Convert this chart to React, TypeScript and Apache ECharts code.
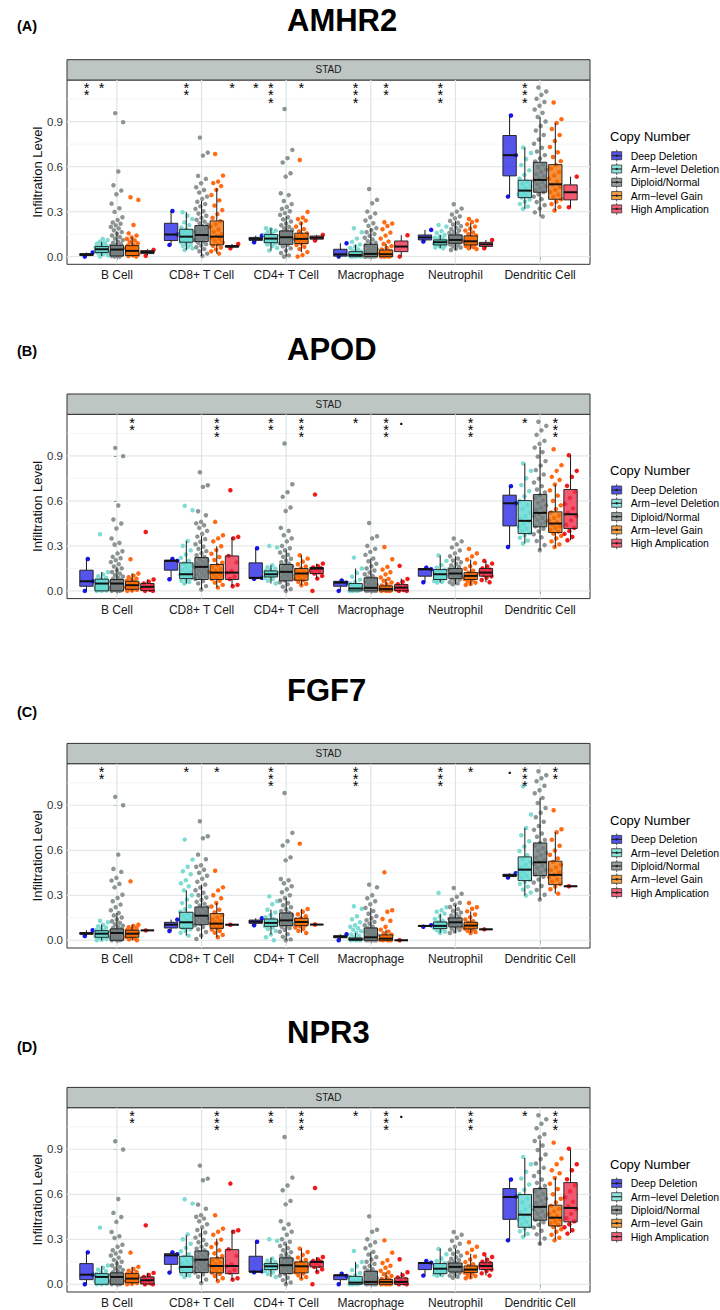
import React, { useEffect, useRef } from "react";
import * as echarts from "echarts";

// ---------- data ----------
const cellTypes = ["B Cell", "CD8+ T Cell", "CD4+ T Cell", "Macrophage", "Neutrophil", "Dendritic Cell"];
const copyGroups = ["Deep Deletion", "Arm\u2212level Deletion", "Diploid/Normal", "Arm\u2212level Gain", "High Amplication"];
const genes = ["AMHR2", "APOD", "FGF7", "NPR3"];
const panelTags = ["(A)", "(B)", "(C)", "(D)"];
const stripLabel = "STAD";
const yTicks = [0, 0.3, 0.6, 0.9];
const yMinor = [0.15, 0.45, 0.75, 1.05];

// box stats per cell type, per copy-number group: [low whisker, q1, median, q3, high whisker]
const amhr2Box = [
  [[0.0, 0.007, 0.013, 0.02, 0.027], [0.004, 0.027, 0.049, 0.067, 0.1], [0.0, 0.004, 0.047, 0.075, 0.167], [0.0, 0.007, 0.038, 0.073, 0.13], [0.009, 0.02, 0.03, 0.04, 0.05]],
  [[0.078, 0.107, 0.147, 0.222, 0.304], [0.044, 0.096, 0.133, 0.182, 0.296], [0.004, 0.1, 0.144, 0.207, 0.373], [0.02, 0.078, 0.133, 0.238, 0.456], [0.056, 0.063, 0.068, 0.074, 0.084]],
  [[0.096, 0.108, 0.118, 0.128, 0.14], [0.04, 0.093, 0.12, 0.147, 0.189], [0.0, 0.082, 0.129, 0.171, 0.267], [0.03, 0.087, 0.118, 0.156, 0.227], [0.107, 0.116, 0.126, 0.137, 0.145]],
  [[0.0, 0.003, 0.015, 0.049, 0.089], [0.0, 0.0, 0.011, 0.033, 0.08], [0.0, 0.0, 0.018, 0.082, 0.19], [0.0, 0.0, 0.016, 0.044, 0.084], [0.0, 0.033, 0.067, 0.104, 0.142]],
  [[0.1, 0.111, 0.128, 0.144, 0.178], [0.056, 0.078, 0.096, 0.111, 0.144], [0.044, 0.089, 0.111, 0.144, 0.238], [0.05, 0.078, 0.102, 0.138, 0.222], [0.056, 0.068, 0.082, 0.095, 0.111]],
  [[0.4, 0.538, 0.676, 0.807, 0.94], [0.318, 0.393, 0.44, 0.509, 0.727], [0.267, 0.429, 0.511, 0.629, 0.93], [0.307, 0.382, 0.482, 0.613, 0.89], [0.329, 0.378, 0.429, 0.478, 0.533]],
];
const apodBox = [
  [[0.0, 0.031, 0.064, 0.138, 0.213], [0.0, 0.0, 0.049, 0.078, 0.125], [0.0, 0.0, 0.049, 0.076, 0.16], [0.0, 0.011, 0.038, 0.064, 0.116], [0.0, 0.002, 0.027, 0.049, 0.076]],
  [[0.078, 0.138, 0.2, 0.205, 0.213], [0.049, 0.082, 0.111, 0.187, 0.333], [0.009, 0.076, 0.16, 0.222, 0.367], [0.022, 0.076, 0.122, 0.176, 0.298], [0.031, 0.076, 0.122, 0.233, 0.36]],
  [[0.08, 0.082, 0.087, 0.187, 0.284], [0.049, 0.093, 0.111, 0.133, 0.171], [0.0, 0.067, 0.127, 0.176, 0.271], [0.038, 0.071, 0.116, 0.149, 0.238], [0.082, 0.116, 0.149, 0.156, 0.182]],
  [[0.0, 0.031, 0.055, 0.064, 0.07], [0.0, 0.0, 0.016, 0.049, 0.149], [0.0, 0.0, 0.02, 0.087, 0.216], [0.0, 0.0, 0.013, 0.033, 0.08], [0.0, 0.001, 0.022, 0.042, 0.082]],
  [[0.058, 0.098, 0.144, 0.149, 0.155], [0.056, 0.076, 0.111, 0.142, 0.236], [0.044, 0.082, 0.116, 0.149, 0.231], [0.04, 0.076, 0.1, 0.122, 0.209], [0.058, 0.098, 0.122, 0.149, 0.2]],
  [[0.293, 0.433, 0.584, 0.638, 0.698], [0.316, 0.382, 0.467, 0.602, 0.849], [0.271, 0.427, 0.52, 0.642, 0.96], [0.293, 0.389, 0.449, 0.527, 0.709], [0.338, 0.416, 0.511, 0.676, 0.904]],
];
const fgf7Box = [
  [[0.029, 0.04, 0.046, 0.052, 0.067], [0.0, 0.02, 0.044, 0.064, 0.104], [0.0, 0.0, 0.049, 0.076, 0.182], [0.0, 0.02, 0.044, 0.067, 0.104], [0.066, 0.066, 0.066, 0.066, 0.066]],
  [[0.062, 0.082, 0.104, 0.12, 0.138], [0.031, 0.08, 0.12, 0.187, 0.333], [0.009, 0.104, 0.164, 0.222, 0.371], [0.02, 0.08, 0.111, 0.178, 0.249], [0.104, 0.104, 0.104, 0.104, 0.104]],
  [[0.1, 0.113, 0.124, 0.135, 0.147], [0.038, 0.093, 0.116, 0.142, 0.204], [0.0, 0.098, 0.133, 0.182, 0.282], [0.049, 0.098, 0.122, 0.147, 0.209], [0.105, 0.105, 0.105, 0.105, 0.105]],
  [[0.0, 0.017, 0.024, 0.031, 0.04], [0.0, 0.0, 0.007, 0.016, 0.049], [0.0, 0.0, 0.02, 0.082, 0.216], [0.0, 0.0, 0.011, 0.036, 0.071], [0.0, 0.0, 0.0, 0.0, 0.0]],
  [[0.09, 0.093, 0.096, 0.098, 0.1], [0.049, 0.078, 0.096, 0.122, 0.178], [0.049, 0.089, 0.12, 0.149, 0.238], [0.049, 0.076, 0.098, 0.12, 0.193], [0.073, 0.073, 0.073, 0.073, 0.073]],
  [[0.418, 0.425, 0.433, 0.44, 0.447], [0.298, 0.398, 0.471, 0.556, 0.749], [0.271, 0.431, 0.52, 0.649, 0.949], [0.311, 0.371, 0.436, 0.527, 0.72], [0.36, 0.36, 0.36, 0.36, 0.36]],
];
const npr3Box = [
  [[0.0, 0.031, 0.064, 0.138, 0.213], [0.0, 0.0, 0.049, 0.071, 0.122], [0.0, 0.0, 0.049, 0.076, 0.16], [0.0, 0.011, 0.038, 0.071, 0.116], [0.0, 0.002, 0.027, 0.049, 0.076]],
  [[0.076, 0.133, 0.193, 0.204, 0.213], [0.049, 0.078, 0.116, 0.187, 0.327], [0.009, 0.078, 0.164, 0.222, 0.371], [0.022, 0.076, 0.122, 0.176, 0.304], [0.031, 0.071, 0.122, 0.231, 0.36]],
  [[0.08, 0.082, 0.084, 0.187, 0.284], [0.049, 0.098, 0.12, 0.138, 0.178], [0.0, 0.071, 0.127, 0.176, 0.271], [0.038, 0.076, 0.12, 0.149, 0.238], [0.082, 0.116, 0.149, 0.153, 0.182]],
  [[0.0, 0.031, 0.06, 0.062, 0.07], [0.0, 0.0, 0.011, 0.053, 0.149], [0.0, 0.0, 0.016, 0.087, 0.216], [0.0, 0.0, 0.016, 0.033, 0.08], [0.0, 0.0, 0.016, 0.042, 0.082]],
  [[0.058, 0.098, 0.142, 0.144, 0.15], [0.056, 0.071, 0.104, 0.138, 0.238], [0.044, 0.082, 0.116, 0.142, 0.238], [0.04, 0.078, 0.098, 0.122, 0.204], [0.058, 0.098, 0.122, 0.144, 0.191]],
  [[0.289, 0.433, 0.582, 0.638, 0.693], [0.316, 0.38, 0.464, 0.598, 0.842], [0.26, 0.427, 0.516, 0.638, 0.96], [0.298, 0.389, 0.444, 0.527, 0.709], [0.342, 0.416, 0.509, 0.678, 0.898]],
];

// individual sample values (read approximately from the jittered points)
const amhr2Pts = [
  [
    [0.0, 0.027],
    [0.0, 0.008, 0.016, 0.022, 0.027, 0.031, 0.036, 0.04, 0.043, 0.046, 0.049, 0.052, 0.055, 0.058, 0.062, 0.066, 0.07, 0.074, 0.08, 0.086, 0.093, 0.1, 0.11, 0.118],
    [0.956, 0.896, 0.567, 0.476, 0.44, 0.416, 0.353, 0.322, 0.298, 0.262, 0.244, 0.227, 0.219, 0.208, 0.198, 0.188, 0.176, 0.163, 0.152, 0.141, 0.13, 0.12, 0.11, 0.1, 0.092, 0.085, 0.078, 0.072, 0.066, 0.06, 0.054, 0.048, 0.043, 0.038, 0.032, 0.027, 0.022, 0.017, 0.012, 0.008, 0.004, 0.0, 0.0],
    [0.396, 0.378, 0.211, 0.155, 0.14, 0.127, 0.118, 0.108, 0.098, 0.089, 0.081, 0.074, 0.067, 0.061, 0.055, 0.049, 0.044, 0.039, 0.034, 0.029, 0.024, 0.019, 0.014, 0.009, 0.004, 0.0],
    [0.005, 0.045],
  ],
  [
    [0.078, 0.147, 0.304],
    [0.044, 0.055, 0.064, 0.072, 0.08, 0.088, 0.095, 0.101, 0.108, 0.115, 0.121, 0.127, 0.133, 0.139, 0.146, 0.154, 0.162, 0.171, 0.181, 0.193, 0.21, 0.228, 0.25, 0.272, 0.296],
    [0.793, 0.693, 0.673, 0.538, 0.518, 0.489, 0.462, 0.444, 0.427, 0.4, 0.385, 0.366, 0.35, 0.335, 0.318, 0.302, 0.287, 0.272, 0.258, 0.245, 0.233, 0.222, 0.212, 0.202, 0.193, 0.184, 0.175, 0.166, 0.158, 0.15, 0.143, 0.136, 0.129, 0.122, 0.115, 0.108, 0.1, 0.092, 0.083, 0.073, 0.062, 0.05, 0.036, 0.02, 0.005],
    [0.684, 0.54, 0.5, 0.49, 0.47, 0.445, 0.41, 0.375, 0.34, 0.31, 0.283, 0.258, 0.236, 0.216, 0.198, 0.181, 0.165, 0.15, 0.138, 0.127, 0.116, 0.105, 0.094, 0.083, 0.072, 0.061, 0.048, 0.035, 0.02],
    [0.056, 0.084],
  ],
  [
    [0.096, 0.14],
    [0.04, 0.058, 0.07, 0.08, 0.088, 0.095, 0.101, 0.107, 0.112, 0.117, 0.122, 0.127, 0.133, 0.139, 0.146, 0.154, 0.163, 0.173, 0.182, 0.189],
    [0.984, 0.711, 0.656, 0.627, 0.556, 0.533, 0.422, 0.41, 0.371, 0.35, 0.331, 0.318, 0.302, 0.29, 0.278, 0.262, 0.248, 0.234, 0.221, 0.209, 0.198, 0.188, 0.179, 0.17, 0.162, 0.154, 0.147, 0.14, 0.134, 0.128, 0.122, 0.116, 0.11, 0.103, 0.096, 0.088, 0.079, 0.068, 0.055, 0.04, 0.024, 0.008, 0.0],
    [0.644, 0.298, 0.26, 0.25, 0.24, 0.222, 0.2, 0.183, 0.168, 0.155, 0.145, 0.136, 0.128, 0.121, 0.115, 0.109, 0.102, 0.095, 0.087, 0.077, 0.065, 0.05, 0.03, 0.01, 0.0],
    [0.107, 0.145],
  ],
  [
    [0.0, 0.089],
    [0.189, 0.162, 0.12, 0.098, 0.08, 0.068, 0.057, 0.047, 0.039, 0.032, 0.026, 0.02, 0.015, 0.011, 0.007, 0.004, 0.001, 0.0, 0.0, 0.0],
    [0.451, 0.378, 0.356, 0.3, 0.288, 0.262, 0.241, 0.222, 0.205, 0.19, 0.176, 0.163, 0.15, 0.138, 0.126, 0.114, 0.103, 0.093, 0.084, 0.075, 0.066, 0.058, 0.05, 0.043, 0.036, 0.03, 0.024, 0.018, 0.013, 0.008, 0.004, 0.001, 0.0, 0.0, 0.0, 0.0],
    [0.229, 0.22, 0.204, 0.182, 0.16, 0.14, 0.12, 0.1, 0.084, 0.07, 0.058, 0.047, 0.037, 0.028, 0.021, 0.015, 0.01, 0.005, 0.002, 0.0, 0.0, 0.0],
    [0.0, 0.142],
  ],
  [
    [0.1, 0.178],
    [0.211, 0.2, 0.17, 0.158, 0.144, 0.134, 0.126, 0.119, 0.113, 0.107, 0.102, 0.098, 0.094, 0.09, 0.086, 0.082, 0.078, 0.073, 0.067, 0.06, 0.056],
    [0.349, 0.32, 0.3, 0.281, 0.268, 0.255, 0.238, 0.226, 0.214, 0.203, 0.193, 0.183, 0.174, 0.165, 0.157, 0.149, 0.142, 0.136, 0.13, 0.124, 0.118, 0.113, 0.108, 0.103, 0.098, 0.093, 0.088, 0.082, 0.076, 0.069, 0.061, 0.052, 0.044],
    [0.251, 0.24, 0.23, 0.215, 0.2, 0.186, 0.173, 0.161, 0.15, 0.14, 0.131, 0.122, 0.114, 0.107, 0.1, 0.094, 0.088, 0.082, 0.076, 0.07, 0.063, 0.056, 0.05],
    [0.056, 0.111],
  ],
  [
    [0.4, 0.676, 0.94],
    [0.727, 0.69, 0.65, 0.61, 0.575, 0.545, 0.52, 0.5, 0.484, 0.47, 0.458, 0.446, 0.436, 0.426, 0.416, 0.405, 0.394, 0.381, 0.366, 0.35, 0.334, 0.318],
    [1.127, 1.1, 1.078, 1.052, 1.03, 1.005, 0.98, 0.958, 0.93, 0.9, 0.87, 0.84, 0.81, 0.78, 0.752, 0.725, 0.7, 0.676, 0.654, 0.634, 0.615, 0.597, 0.58, 0.564, 0.549, 0.535, 0.521, 0.508, 0.495, 0.482, 0.469, 0.456, 0.443, 0.43, 0.416, 0.4, 0.383, 0.364, 0.343, 0.32, 0.295, 0.267],
    [1.027, 0.916, 0.89, 0.85, 0.81, 0.77, 0.73, 0.695, 0.664, 0.636, 0.61, 0.586, 0.563, 0.541, 0.52, 0.5, 0.481, 0.463, 0.446, 0.43, 0.414, 0.398, 0.382, 0.366, 0.35, 0.33, 0.307],
    [0.329, 0.533],
  ],
];
const apodPts = [
  [
    [0.0, 0.064, 0.213],
    [0.378, 0.125, 0.11, 0.098, 0.088, 0.079, 0.071, 0.064, 0.058, 0.052, 0.047, 0.041, 0.035, 0.028, 0.021, 0.014, 0.008, 0.003, 0.0, 0.0],
    [0.953, 0.898, 0.569, 0.476, 0.449, 0.416, 0.349, 0.32, 0.309, 0.264, 0.25, 0.227, 0.218, 0.205, 0.192, 0.178, 0.163, 0.15, 0.138, 0.126, 0.115, 0.105, 0.096, 0.088, 0.081, 0.074, 0.068, 0.062, 0.056, 0.05, 0.045, 0.04, 0.035, 0.03, 0.025, 0.02, 0.015, 0.01, 0.006, 0.002, 0.0, 0.0],
    [0.211, 0.116, 0.102, 0.091, 0.082, 0.074, 0.067, 0.06, 0.054, 0.048, 0.043, 0.038, 0.033, 0.028, 0.023, 0.018, 0.013, 0.008, 0.003, 0.0],
    [0.393, 0.076, 0.062, 0.049, 0.038, 0.027, 0.017, 0.008, 0.0, 0.0],
  ],
  [
    [0.078, 0.2, 0.213],
    [0.567, 0.538, 0.333, 0.3, 0.27, 0.243, 0.22, 0.2, 0.183, 0.168, 0.154, 0.141, 0.13, 0.119, 0.11, 0.101, 0.093, 0.085, 0.077, 0.068, 0.059, 0.049],
    [0.791, 0.704, 0.693, 0.531, 0.504, 0.46, 0.45, 0.438, 0.42, 0.4, 0.38, 0.362, 0.345, 0.328, 0.311, 0.295, 0.28, 0.265, 0.251, 0.238, 0.226, 0.214, 0.203, 0.193, 0.183, 0.173, 0.164, 0.155, 0.146, 0.137, 0.128, 0.119, 0.11, 0.1, 0.09, 0.079, 0.066, 0.05, 0.032, 0.009],
    [0.46, 0.371, 0.35, 0.33, 0.298, 0.272, 0.248, 0.226, 0.206, 0.188, 0.172, 0.158, 0.146, 0.135, 0.125, 0.116, 0.107, 0.098, 0.089, 0.079, 0.068, 0.055, 0.04, 0.022],
    [0.671, 0.36, 0.35, 0.233, 0.19, 0.132, 0.122, 0.095, 0.079, 0.04, 0.031],
  ],
  [
    [0.08, 0.087, 0.284],
    [0.3, 0.29, 0.171, 0.158, 0.148, 0.14, 0.133, 0.127, 0.121, 0.116, 0.111, 0.106, 0.101, 0.095, 0.088, 0.079, 0.068, 0.049],
    [0.982, 0.711, 0.658, 0.627, 0.556, 0.533, 0.42, 0.4, 0.371, 0.35, 0.33, 0.3, 0.284, 0.271, 0.256, 0.241, 0.227, 0.214, 0.202, 0.191, 0.181, 0.172, 0.163, 0.155, 0.147, 0.14, 0.133, 0.126, 0.119, 0.112, 0.105, 0.097, 0.089, 0.08, 0.07, 0.058, 0.044, 0.028, 0.012, 0.0],
    [0.238, 0.215, 0.195, 0.178, 0.163, 0.15, 0.14, 0.131, 0.123, 0.116, 0.109, 0.102, 0.095, 0.088, 0.08, 0.071, 0.06, 0.048, 0.038],
    [0.642, 0.182, 0.165, 0.156, 0.15, 0.143, 0.134, 0.124, 0.116, 0.1, 0.082, 0.0],
  ],
  [
    [0.0, 0.055, 0.07],
    [0.222, 0.149, 0.12, 0.095, 0.075, 0.06, 0.048, 0.038, 0.029, 0.022, 0.016, 0.011, 0.007, 0.003, 0.0, 0.0, 0.0],
    [0.453, 0.364, 0.35, 0.3, 0.28, 0.26, 0.24, 0.216, 0.198, 0.181, 0.165, 0.15, 0.136, 0.123, 0.111, 0.1, 0.09, 0.081, 0.072, 0.063, 0.055, 0.047, 0.04, 0.033, 0.027, 0.021, 0.016, 0.011, 0.007, 0.003, 0.0, 0.0, 0.0, 0.0],
    [0.293, 0.211, 0.16, 0.142, 0.124, 0.11, 0.09, 0.08, 0.068, 0.056, 0.045, 0.036, 0.028, 0.021, 0.015, 0.01, 0.005, 0.002, 0.0, 0.0, 0.0],
    [0.167, 0.08, 0.061, 0.045, 0.033, 0.022, 0.013, 0.006, 0.0, 0.0],
  ],
  [
    [0.058, 0.144, 0.155],
    [0.236, 0.2, 0.172, 0.155, 0.142, 0.132, 0.123, 0.115, 0.108, 0.101, 0.094, 0.087, 0.08, 0.073, 0.066, 0.06, 0.056],
    [0.349, 0.33, 0.31, 0.29, 0.27, 0.25, 0.231, 0.216, 0.203, 0.191, 0.18, 0.17, 0.161, 0.153, 0.145, 0.138, 0.131, 0.124, 0.118, 0.112, 0.106, 0.1, 0.094, 0.088, 0.082, 0.075, 0.067, 0.058, 0.05, 0.044],
    [0.28, 0.25, 0.23, 0.209, 0.185, 0.165, 0.148, 0.134, 0.122, 0.112, 0.104, 0.097, 0.091, 0.085, 0.079, 0.072, 0.064, 0.055, 0.046, 0.04],
    [0.2, 0.182, 0.163, 0.15, 0.141, 0.132, 0.124, 0.117, 0.108, 0.098, 0.088, 0.073, 0.058],
  ],
  [
    [0.293, 0.584, 0.698],
    [0.849, 0.8, 0.75, 0.705, 0.665, 0.63, 0.6, 0.572, 0.546, 0.522, 0.5, 0.48, 0.462, 0.445, 0.43, 0.415, 0.4, 0.385, 0.37, 0.354, 0.336, 0.316],
    [1.127, 1.1, 1.07, 1.04, 1.0, 0.98, 0.955, 0.925, 0.895, 0.865, 0.835, 0.805, 0.776, 0.748, 0.722, 0.698, 0.676, 0.656, 0.638, 0.62, 0.603, 0.587, 0.571, 0.556, 0.541, 0.527, 0.513, 0.499, 0.486, 0.472, 0.458, 0.444, 0.43, 0.414, 0.397, 0.378, 0.357, 0.333, 0.305, 0.271],
    [0.944, 0.838, 0.8, 0.76, 0.74, 0.709, 0.67, 0.635, 0.6, 0.57, 0.545, 0.523, 0.503, 0.486, 0.47, 0.456, 0.443, 0.431, 0.419, 0.407, 0.395, 0.382, 0.367, 0.35, 0.33, 0.31, 0.293],
    [0.904, 0.8, 0.76, 0.7, 0.66, 0.62, 0.58, 0.55, 0.52, 0.5, 0.47, 0.44, 0.42, 0.4, 0.38, 0.36, 0.338],
  ],
];
const fgf7Pts = [
  [
    [0.029, 0.067],
    [0.13, 0.12, 0.104, 0.094, 0.085, 0.077, 0.07, 0.064, 0.058, 0.052, 0.047, 0.042, 0.037, 0.032, 0.027, 0.021, 0.015, 0.009, 0.004, 0.0],
    [0.956, 0.9, 0.571, 0.476, 0.456, 0.416, 0.398, 0.376, 0.353, 0.304, 0.282, 0.26, 0.238, 0.22, 0.2, 0.182, 0.166, 0.152, 0.139, 0.127, 0.116, 0.106, 0.097, 0.089, 0.082, 0.075, 0.068, 0.062, 0.056, 0.05, 0.045, 0.04, 0.035, 0.03, 0.025, 0.02, 0.015, 0.01, 0.005, 0.001, 0.0, 0.0],
    [0.393, 0.104, 0.095, 0.087, 0.08, 0.073, 0.067, 0.061, 0.055, 0.05, 0.045, 0.04, 0.035, 0.029, 0.022, 0.014, 0.006, 0.0],
    [0.066],
  ],
  [
    [0.062, 0.138],
    [0.671, 0.538, 0.49, 0.46, 0.44, 0.4, 0.38, 0.36, 0.333, 0.3, 0.272, 0.248, 0.226, 0.207, 0.19, 0.175, 0.162, 0.15, 0.139, 0.129, 0.12, 0.111, 0.102, 0.093, 0.084, 0.074, 0.063, 0.05, 0.031],
    [0.793, 0.693, 0.68, 0.571, 0.54, 0.5, 0.49, 0.47, 0.45, 0.43, 0.41, 0.39, 0.371, 0.352, 0.334, 0.317, 0.3, 0.285, 0.27, 0.256, 0.243, 0.231, 0.22, 0.21, 0.2, 0.19, 0.181, 0.172, 0.164, 0.155, 0.147, 0.138, 0.129, 0.12, 0.11, 0.1, 0.088, 0.073, 0.055, 0.032, 0.009],
    [0.464, 0.353, 0.333, 0.3, 0.28, 0.249, 0.225, 0.204, 0.185, 0.168, 0.153, 0.14, 0.129, 0.119, 0.111, 0.103, 0.096, 0.089, 0.081, 0.072, 0.062, 0.05, 0.036, 0.02],
    [0.104],
  ],
  [
    [0.1, 0.147],
    [0.293, 0.26, 0.24, 0.204, 0.185, 0.168, 0.154, 0.143, 0.134, 0.126, 0.119, 0.113, 0.107, 0.1, 0.093, 0.085, 0.075, 0.062, 0.038, 0.02, 0.0],
    [0.982, 0.716, 0.66, 0.631, 0.553, 0.533, 0.409, 0.4, 0.38, 0.36, 0.34, 0.32, 0.3, 0.282, 0.265, 0.249, 0.234, 0.22, 0.207, 0.195, 0.184, 0.174, 0.165, 0.156, 0.148, 0.14, 0.133, 0.126, 0.119, 0.112, 0.105, 0.098, 0.09, 0.081, 0.07, 0.057, 0.041, 0.023, 0.006, 0.0],
    [0.644, 0.209, 0.19, 0.174, 0.16, 0.148, 0.139, 0.131, 0.124, 0.118, 0.112, 0.106, 0.1, 0.093, 0.085, 0.075, 0.063, 0.049],
    [0.105],
  ],
  [
    [0.0, 0.04],
    [0.227, 0.21, 0.16, 0.14, 0.12, 0.1, 0.09, 0.08, 0.07, 0.06, 0.049, 0.038, 0.028, 0.02, 0.013, 0.007, 0.003, 0.0, 0.0, 0.0, 0.0],
    [0.371, 0.353, 0.3, 0.28, 0.26, 0.24, 0.216, 0.195, 0.177, 0.161, 0.147, 0.134, 0.122, 0.111, 0.1, 0.09, 0.081, 0.072, 0.064, 0.056, 0.049, 0.042, 0.035, 0.029, 0.023, 0.018, 0.013, 0.008, 0.004, 0.001, 0.0, 0.0, 0.0, 0.0],
    [0.453, 0.2, 0.19, 0.142, 0.13, 0.09, 0.071, 0.058, 0.047, 0.037, 0.028, 0.02, 0.013, 0.007, 0.003, 0.0, 0.0, 0.0],
    [0.0],
  ],
  [
    [0.09, 0.1],
    [0.316, 0.22, 0.2, 0.19, 0.178, 0.158, 0.142, 0.13, 0.12, 0.112, 0.105, 0.099, 0.093, 0.087, 0.081, 0.074, 0.066, 0.058, 0.049],
    [0.349, 0.31, 0.29, 0.27, 0.25, 0.238, 0.222, 0.208, 0.196, 0.185, 0.175, 0.166, 0.158, 0.15, 0.143, 0.136, 0.129, 0.122, 0.116, 0.11, 0.104, 0.098, 0.092, 0.085, 0.077, 0.068, 0.058, 0.049],
    [0.249, 0.22, 0.21, 0.193, 0.172, 0.154, 0.139, 0.127, 0.117, 0.109, 0.102, 0.096, 0.09, 0.084, 0.078, 0.071, 0.063, 0.055, 0.049],
    [0.073],
  ],
  [
    [0.418, 0.447],
    [1.027, 0.838, 0.749, 0.7, 0.66, 0.625, 0.595, 0.568, 0.544, 0.522, 0.502, 0.485, 0.47, 0.456, 0.443, 0.43, 0.417, 0.404, 0.39, 0.375, 0.358, 0.338, 0.318, 0.298],
    [1.127, 1.1, 1.08, 1.06, 1.03, 1.0, 0.98, 0.949, 0.915, 0.882, 0.85, 0.82, 0.79, 0.762, 0.736, 0.712, 0.69, 0.669, 0.649, 0.631, 0.614, 0.598, 0.582, 0.567, 0.552, 0.538, 0.524, 0.51, 0.496, 0.482, 0.468, 0.454, 0.439, 0.423, 0.405, 0.385, 0.362, 0.335, 0.304, 0.271],
    [0.867, 0.74, 0.72, 0.67, 0.63, 0.598, 0.57, 0.545, 0.523, 0.503, 0.485, 0.468, 0.452, 0.436, 0.421, 0.406, 0.391, 0.375, 0.358, 0.34, 0.311],
    [0.36],
  ],
];
// NPR3 point clouds look the same as APOD's in the reference
const npr3Pts = apodPts;

// significance markers per cell type, per group
const amhr2Stars = [["**", "*", "", "", ""], ["", "**", "", "", "*"], ["*", "***", "", "*", ""], ["", "***", "", "**", ""], ["", "***", "", "", ""], ["", "***", "", "", ""]];
const apodStars = [["", "", "", "**", ""], ["", "", "", "***", ""], ["", "**", "", "***", ""], ["", "*", "", "***", "."], ["", "", "", "***", ""], ["", "*", "", "***", ""]];
const fgf7Stars = [["", "**", "", "", ""], ["", "*", "", "*", ""], ["", "***", "", "", ""], ["", "***", "", "", ""], ["", "***", "", "*", ""], [".", "***", "", "**", ""]];
const npr3Stars = [["", "", "", "**", ""], ["", "", "", "***", ""], ["", "**", "", "***", ""], ["", "*", "", "***", "."], ["", "", "", "***", ""], ["", "*", "", "***", ""]];

// ---------- layout & style ----------
const FONT = '"Liberation Sans", Arial, Helvetica, sans-serif';
const Y_MIN = -0.0513;
const Y_MAX = 1.177;
const X_MIN = -0.59;
const X_MAX = 5.59;
const DODGE = 0.18;
const BOX_W = 0.158;
const GRID_LEFT = 67;
const GRID_W = 523;
const PLOT_H = 184.3;
const STRIP_H = 20.3;
const plotTops = [80, 414.3, 763.7, 1107.7];
const titleYs = [20.8, 349, 690.8, 1032];
const tagYs = [26, 350.7, 711.7, 1046.7];

const boxFill = ["rgba(42,42,230,0.8)", "rgba(96,216,211,0.8)", "rgba(111,121,121,0.8)", "rgba(242,109,0,0.75)", "rgba(239,49,79,0.8)"];
const pointColor = ["#1414F0", "#7FDCD3", "#8C9494", "#FF6A14", "#F01A1A"];
const legendFill = ["#5252E8", "#8BE3DC", "#979E9E", "#F6A042", "#F0607A"];

const jit = (i: number) => (((i * 0.6180339 + 0.37) % 1) - 0.5) * 0.15;

function buildOption() {
  const boxesAll = [amhr2Box, apodBox, fgf7Box, npr3Box];
  const ptsAll = [amhr2Pts, apodPts, fgf7Pts, npr3Pts];
  const starsAll = [amhr2Stars, apodStars, fgf7Stars, npr3Stars];

  const grid: any[] = [];
  const xAxis: any[] = [];
  const yAxis: any[] = [];
  const series: any[] = [];
  const graphic: any[] = [];
  const cellIdx = cellTypes.map((_, i) => i);

  for (let p = 0; p < 4; p++) {
    const top = plotTops[p];
    grid.push({ left: GRID_LEFT, width: GRID_W, top, height: PLOT_H, show: true, backgroundColor: "#fff", borderColor: "#333", borderWidth: 1 });
    xAxis.push({
      type: "value", gridIndex: p, min: X_MIN, max: X_MAX,
      axisLine: { show: false }, splitLine: { show: false },
      axisTick: { show: true, customValues: cellIdx, length: 3, lineStyle: { color: "#333", width: 1 } },
      axisLabel: { customValues: cellIdx, formatter: (v: number) => cellTypes[Math.round(v)], fontSize: 12, color: "#1a1a1a", margin: 5, fontFamily: FONT },
    });
    yAxis.push({
      type: "value", gridIndex: p, min: Y_MIN, max: Y_MAX,
      axisLine: { show: false }, splitLine: { show: false },
      axisTick: { show: true, customValues: yTicks, length: 3, lineStyle: { color: "#333", width: 1 } },
      axisLabel: { customValues: yTicks, formatter: (v: number) => v.toFixed(1), fontSize: 11.5, color: "#333", margin: 4, fontFamily: FONT },
      name: "Infiltration Level", nameLocation: "middle", nameGap: 23, nameRotate: 90, nameMoveOverlap: false,
      nameTextStyle: { fontSize: 13, color: "#111", fontFamily: FONT },
    });

    // grid lines
    series.push({
      type: "custom", xAxisIndex: p, yAxisIndex: p, silent: true, z: 1, data: [[0, 0]],
      renderItem: (_params: any, api: any) => {
        const children: any[] = [];
        yMinor.forEach((v) => {
          const a = api.coord([X_MIN, v]); const b = api.coord([X_MAX, v]);
          children.push({ type: "line", shape: { x1: a[0], y1: a[1], x2: b[0], y2: b[1] }, style: { stroke: "#EEF1F1", lineWidth: 0.7 } });
        });
        yTicks.forEach((v) => {
          const a = api.coord([X_MIN, v]); const b = api.coord([X_MAX, v]);
          children.push({ type: "line", shape: { x1: a[0], y1: a[1], x2: b[0], y2: b[1] }, style: { stroke: "#E3E8E8", lineWidth: 1.2 } });
        });
        cellIdx.forEach((c) => {
          const a = api.coord([c, Y_MIN]); const b = api.coord([c, Y_MAX]);
          children.push({ type: "line", shape: { x1: a[0], y1: a[1], x2: b[0], y2: b[1] }, style: { stroke: "#DCE4E4", lineWidth: 1.2 } });
        });
        return { type: "group", children };
      },
    });

    // jittered points
    for (let g = 0; g < 5; g++) {
      const data: number[][] = [];
      ptsAll[p].forEach((cellPts: number[][], c: number) => {
        cellPts[g].forEach((v: number, i: number) => data.push([c + (g - 2) * DODGE + jit(i), v]));
      });
      series.push({
        type: "scatter", xAxisIndex: p, yAxisIndex: p, silent: true, z: 2,
        symbol: "circle", symbolSize: 4.5, itemStyle: { color: pointColor[g], opacity: 1 }, data,
      });
    }

    // boxes
    const boxData: number[][] = [];
    boxesAll[p].forEach((cellBoxes: number[][], c: number) => {
      cellBoxes.forEach((s: number[], g: number) => boxData.push([c + (g - 2) * DODGE, s[0], s[1], s[2], s[3], s[4], g]));
    });
    series.push({
      type: "custom", xAxisIndex: p, yAxisIndex: p, silent: true, z: 3, data: boxData,
      encode: { x: 0, y: [1, 2, 3, 4, 5] },
      renderItem: (_params: any, api: any) => {
        const x = api.value(0);
        const g = api.value(6);
        const pl = api.coord([x, api.value(1)]);
        const p1 = api.coord([x, api.value(2)]);
        const pm = api.coord([x, api.value(3)]);
        const p3 = api.coord([x, api.value(4)]);
        const ph = api.coord([x, api.value(5)]);
        const w = api.size([BOX_W, 0])[0];
        const cx = pl[0];
        return {
          type: "group",
          children: [
            { type: "line", shape: { x1: cx, y1: ph[1], x2: cx, y2: p3[1] }, style: { stroke: "#1a1a1a", lineWidth: 1 } },
            { type: "line", shape: { x1: cx, y1: p1[1], x2: cx, y2: pl[1] }, style: { stroke: "#1a1a1a", lineWidth: 1 } },
            { type: "rect", shape: { x: cx - w / 2, y: p3[1], width: w, height: Math.max(p1[1] - p3[1], 0.01) }, style: { fill: boxFill[g], stroke: "#1a1a1a", lineWidth: 0.9 } },
            { type: "line", shape: { x1: cx - w / 2, y1: pm[1], x2: cx + w / 2, y2: pm[1] }, style: { stroke: "#111", lineWidth: 2 } },
          ],
        };
      },
    });

    // significance markers (one multi-line text per marker)
    const marks: string[] = [];
    const markData: number[][] = [];
    starsAll[p].forEach((row: string[], c: number) => {
      row.forEach((m: string, g: number) => {
        if (m) { marks.push(m); markData.push([c + (g - 2) * DODGE, 1.1]); }
      });
    });
    series.push({
      type: "custom", xAxisIndex: p, yAxisIndex: p, silent: true, z: 4, data: markData,
      renderItem: (params: any, api: any) => {
        const m = marks[params.dataIndex];
        const px = api.coord([api.value(0), 0])[0];
        const topPx = api.coord([api.value(0), Y_MAX])[1];
        if (m === ".") {
          return { type: "text", x: px, y: topPx + 5.5, style: { text: ".", fill: "#000", fontSize: 14, fontWeight: "bold", fontFamily: FONT, align: "center", verticalAlign: "middle" } };
        }
        const txt = m.split("").join("\n");
        return { type: "text", x: px, y: topPx + 4.7, style: { text: txt, fill: "#000", fontSize: 14.5, lineHeight: 7.2, fontFamily: FONT, align: "center", verticalAlign: "top" } };
      },
    });

    // titles, strips, legend
    graphic.push({ type: "text", x: 17, y: tagYs[p], style: { text: panelTags[p], fontSize: 14.5, fontWeight: "bold", fontFamily: FONT, fill: "#000", verticalAlign: "middle" } });
    graphic.push({ type: "text", x: 287, y: titleYs[p], style: { text: genes[p], fontSize: 31, fontWeight: "bold", fontFamily: FONT, fill: "#000", verticalAlign: "middle" } });
    graphic.push({ type: "rect", shape: { x: GRID_LEFT, y: top - STRIP_H, width: GRID_W, height: STRIP_H }, style: { fill: "#BEC6C4", stroke: "#333", lineWidth: 1 } });
    graphic.push({ type: "text", x: GRID_LEFT + GRID_W / 2, y: top - STRIP_H / 2, style: { text: stripLabel, fontSize: 10, fontFamily: FONT, fill: "#1a1a1a", align: "center", verticalAlign: "middle" } });
    graphic.push({ type: "text", x: 610, y: top + 56.5, style: { text: "Copy Number", fontSize: 13, fontFamily: FONT, fill: "#000", verticalAlign: "middle" } });
    copyGroups.forEach((name, g) => {
      const y = top + 75.7 + 13.3 * g;
      const kx = 616.7;
      graphic.push({ type: "line", shape: { x1: kx, y1: y - 6, x2: kx, y2: y + 6 }, style: { stroke: "#333", lineWidth: 0.8 } });
      graphic.push({ type: "rect", shape: { x: kx - 5, y: y - 4, width: 10, height: 8 }, style: { fill: legendFill[g], stroke: "#333", lineWidth: 0.8 } });
      graphic.push({ type: "line", shape: { x1: kx - 5, y1: y, x2: kx + 5, y2: y }, style: { stroke: "#222", lineWidth: 1.1 } });
      graphic.push({ type: "circle", shape: { cx: kx, cy: y, r: 1.2 }, style: { fill: "#222" } });
      graphic.push({ type: "text", x: 630.7, y, style: { text: name, fontSize: 10.5, fontFamily: FONT, fill: "#000", verticalAlign: "middle" } });
    });
  }

  return { animation: false, backgroundColor: "#fff", textStyle: { fontFamily: FONT }, grid, xAxis, yAxis, series, graphic };
}

export default function App() {
  const ref = useRef<HTMLDivElement>(null);
  useEffect(() => {
    if (!ref.current) return;
    const chart = echarts.init(ref.current, undefined, { renderer: "svg" });
    chart.setOption(buildOption() as any);
    return () => chart.dispose();
  }, []);
  return <div ref={ref} style={{ position: "absolute", left: 0, top: 0, width: 720, height: 1310, background: "#fff" }} />;
}
